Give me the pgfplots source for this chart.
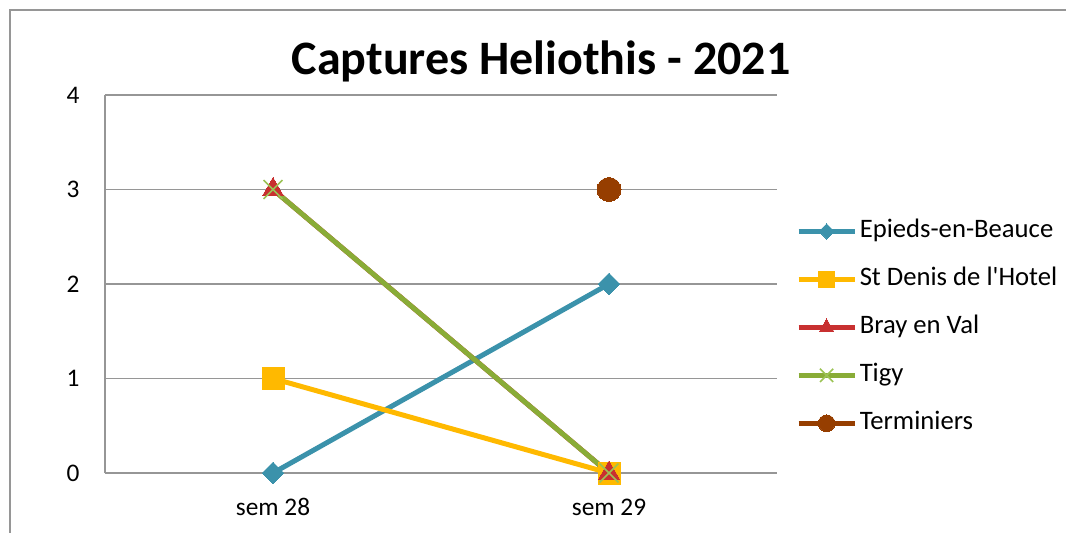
\documentclass[border=0pt]{standalone}
\usepackage{pgfplots}
\pgfplotsset{compat=1.18}
\usepackage{fontspec}
\setmainfont{Carlito}
\definecolor{cteal}{RGB}{59,146,171}
\definecolor{corange}{RGB}{255,185,0}
\definecolor{cred}{RGB}{200,48,48}
\definecolor{cgreen}{RGB}{137,172,55}
\definecolor{clgreen}{RGB}{155,195,85}
\definecolor{cbrown}{RGB}{150,62,0}
\definecolor{cgrid}{RGB}{150,150,150}
\begin{document}
\begin{tikzpicture}
\useasboundingbox (-78.75pt,-44.25pt) rectangle (720.75pt,354.75pt);
\draw[cgrid, line width=1.2pt] (-71.25pt,-60pt) -- (-71.25pt,347.25pt) -- (730pt,347.25pt);
\node[anchor=base, font=\bfseries\fontsize{36}{40}\selectfont] at (327pt,298.5pt) {Captures Heliothis - 2021};
\begin{axis}[
  at={(0pt,0pt)}, anchor=south west,
  scale only axis, width=504pt, height=283.5pt,
  xmin=-0.5, xmax=1.5, ymin=0, ymax=4,
  xtick={0,1}, xticklabels={sem 28, sem 29},
  ytick={0,1,2,3,4},
  major tick length=0pt,
  axis x line*=bottom, axis y line*=left,
  axis line style={cgrid, line width=1pt, -},
  ymajorgrids, grid style={cgrid, line width=1pt},
  tick label style={font=\fontsize{19}{21}\selectfont, inner sep=0pt},
  /pgf/number format/assume math mode=true,
  yticklabel style={anchor=east, xshift=-19pt},
  xticklabel style={anchor=north, yshift=-19pt},
  clip=false,
  legend cell align=left,
  legend style={draw=none, fill=none, at={(1.028,0.67)}, anchor=north west,
    font=\fontsize{20}{22}\selectfont, inner sep=0pt, row sep=19pt,
    nodes={inner sep=0pt, text height=13pt, text depth=4pt}},
  legend image code/.code={
    \draw[mark repeat=2, mark phase=2, /tikz/every mark/.append style={scale=0.7}]
      plot coordinates {(0pt,0pt) (21pt,0pt) (42pt,0pt)};
    \path (44pt,0pt);
  },
]
\addplot[cteal, line width=3.75pt, mark=square*, mark size=5.8pt, mark options={solid, fill=cteal, rotate=45, line width=0pt}]
  coordinates {(0,0) (1,2)};
\addlegendentry{Epieds-en-Beauce}
\addplot[corange, line width=3.75pt, mark=square*, mark size=8.25pt, mark options={solid, fill=corange, line width=0pt}]
  coordinates {(0,1) (1,0)};
\addlegendentry{St Denis de l\textquotesingle Hotel}
\addplot[cred, line width=3.75pt, mark=triangle*, mark size=9pt, mark options={solid, fill=cred, line width=0pt}]
  coordinates {(0,3) (1,0)};
\addlegendentry{Bray en Val}
\addplot[cgreen, line width=3.75pt, mark=x, mark size=10pt, mark options={solid, draw=clgreen, line width=1.2pt}]
  coordinates {(0,3) (1,0)};
\addlegendentry{Tigy}
\addplot[cbrown, line width=3.75pt, mark=*, mark size=9pt, mark options={solid, fill=cbrown, line width=0pt}]
  coordinates {(1,3)};
\addlegendentry{Terminiers}
\end{axis}
\end{tikzpicture}
\end{document}
